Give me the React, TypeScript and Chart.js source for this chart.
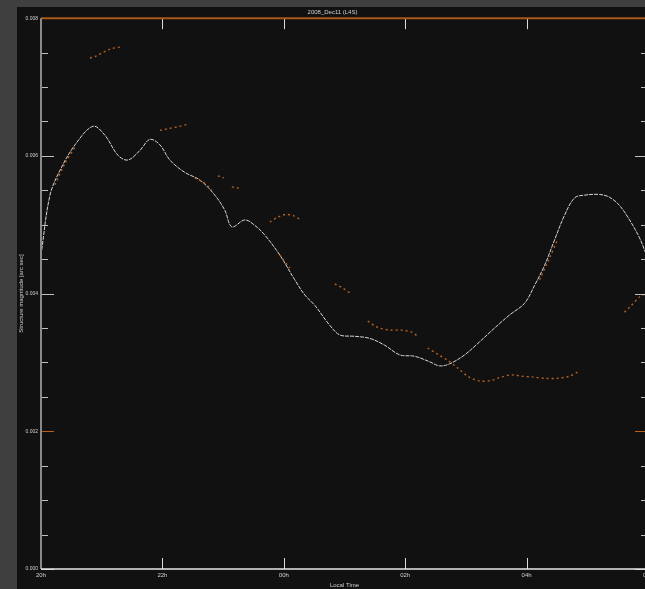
import React, { useEffect, useRef } from "react";
import { Chart, registerables } from "chart.js";

Chart.register(...registerables);

const TITLE = "2008_Dec11 (L4S)";
const X_TITLE = "Local Time";
const Y_TITLE = "Structure magnitude [arc sec]";
const X_TICK_LABELS = ["20h", "22h", "00h", "02h", "04h", "06h"];
const X_MIN = 0;
const X_MAX = 10;
const X_STEP = 2;
const Y_MIN = 0;
const Y_MAX = 0.008;
const Y_STEP = 0.002;
const Y_MINOR_STEP = 0.0005;

// white series (continuous)
const WHITE_X = [0, 0.148, 0.313, 0.56, 0.856, 1.053, 1.267, 1.432, 1.63, 1.794, 1.959, 2.123, 2.37, 2.617, 2.864, 3.029, 3.144, 3.358, 3.523, 3.687, 3.934, 4.181, 4.346, 4.51, 4.757, 4.922, 5.169, 5.416, 5.663, 5.909, 6.156, 6.403, 6.568, 6.733, 6.979, 7.226, 7.473, 7.72, 7.967, 8.132, 8.296, 8.461, 8.626, 8.79, 8.955, 9.202, 9.366, 9.531, 9.696, 9.86, 9.992];
const WHITE_Y = [0.00456, 0.00543, 0.00579, 0.00616, 0.00643, 0.0063, 0.00601, 0.00594, 0.00608, 0.00624, 0.00616, 0.00594, 0.00576, 0.00565, 0.00543, 0.00521, 0.00497, 0.00507, 0.00499, 0.00485, 0.00456, 0.0042, 0.00398, 0.00383, 0.00354, 0.0034, 0.00338, 0.00335, 0.00325, 0.00311, 0.00309, 0.00301, 0.00295, 0.00298, 0.00311, 0.0033, 0.0035, 0.00369, 0.00386, 0.00412, 0.00441, 0.00478, 0.00514, 0.00539, 0.00543, 0.00544, 0.0054, 0.00528, 0.00507, 0.00481, 0.00452];

// orange series (broken segments, null = gap)
const ORANGE_X = [0.23, 0.395, 0.56, null, 0.807, 0.905, 1.037, 1.169, 1.3, null, 1.959, 2.123, 2.288, 2.42, null, 2.535, 2.7, 2.815, null, 2.914, 3.012, null, 3.144, 3.276, null, 3.77, 3.901, 4.033, 4.165, 4.263, null, 3.934, 4.099, null, 4.84, 4.971, 5.119, null, 5.383, 5.547, 5.745, 5.942, 6.107, 6.206, null, 6.37, 6.535, 6.7, 6.864, 7.029, 7.226, 7.424, 7.588, 7.753, 7.918, 8.082, 8.296, 8.51, 8.708, 8.84, null, 8.214, 8.379, 8.51, null, 9.613, 9.728, 9.86, 9.99];
const ORANGE_Y = [0.00558, 0.00589, 0.00613, null, 0.00742, 0.00745, 0.00751, 0.00756, 0.00758, null, 0.00637, 0.0064, 0.00643, 0.00646, null, 0.00568, 0.0056, 0.0055, null, 0.00571, 0.00568, null, 0.00555, 0.00553, null, 0.00504, 0.00511, 0.00515, 0.00513, 0.00508, null, 0.00456, 0.00437, null, 0.00414, 0.00408, 0.00399, null, 0.0036, 0.00351, 0.00347, 0.00347, 0.00344, 0.00338, null, 0.00321, 0.00312, 0.00303, 0.00292, 0.0028, 0.00273, 0.00274, 0.00279, 0.00282, 0.0028, 0.00279, 0.00277, 0.00277, 0.0028, 0.00286, null, 0.0042, 0.00452, 0.00478, null, 0.00373, 0.00383, 0.00395, 0.00401];

const ORANGE = "#b8621d";
const TEXT = "#d0d0d0";
const FONT = "Liberation Sans";

const framePlugin = {
  id: "frame",
  afterDatasetsDraw(chart: any) {
    const { ctx, chartArea: a, scales } = chart;
    const xs = scales.x;
    const ys = scales.y;
    const line = (x1: number, y1: number, x2: number, y2: number) => {
      ctx.beginPath();
      ctx.moveTo(x1, y1);
      ctx.lineTo(x2, y2);
      ctx.stroke();
    };
    ctx.save();
    ctx.lineWidth = 1;
    const nMinor = Math.round((Y_MAX - Y_MIN) / Y_MINOR_STEP);
    const perMajor = Math.round(Y_STEP / Y_MINOR_STEP);
    for (let k = 0; k <= nMinor; k++) {
      const v = Y_MIN + k * Y_MINOR_STEP;
      const py = Math.round(ys.getPixelForValue(v)) + 0.5;
      const major = k % perMajor === 0;
      const len = major ? 13 : 7;
      ctx.strokeStyle = k === perMajor ? ORANGE : "#c0c0c0";
      line(a.left, py, a.left + len, py);
      line(a.right, py, a.right - len, py);
    }
    ctx.strokeStyle = "#dddddd";
    for (let v = X_MIN; v <= X_MAX + 1e-9; v += X_STEP) {
      const px = Math.round(xs.getPixelForValue(v)) + 0.5;
      line(px, a.bottom, px, a.bottom - 11);
      line(px, a.top, px, a.top + 11);
    }
    ctx.lineWidth = 2;
    ctx.strokeStyle = "#a85a1a";
    line(a.left, a.top, a.right, a.top);
    ctx.strokeStyle = "#8a8a8a";
    line(a.left, a.top, a.left, a.bottom);
    ctx.lineWidth = 1.5;
    ctx.strokeStyle = "#e8e8e8";
    line(a.left, a.bottom, a.right, a.bottom);
    ctx.restore();
  },
};

export default function App() {
  const ref = useRef<HTMLCanvasElement | null>(null);
  useEffect(() => {
    if (!ref.current) return;
    const orangeData = ORANGE_Y.map((y, i) => {
      let x = ORANGE_X[i];
      if (x === null) x = ORANGE_X[i - 1] as number;
      return { x: x as number, y };
    });
    const whiteData = WHITE_X.map((x, i) => ({ x, y: WHITE_Y[i] }));
    const chart = new Chart(ref.current, {
      type: "line",
      data: {
        datasets: [
          {
            data: orangeData as any,
            borderColor: ORANGE,
            borderWidth: 1.4,
            borderDash: [2, 3],
            pointRadius: 0,
            spanGaps: false,
            tension: 0.3,
            fill: false,
          },
          {
            data: whiteData,
            borderColor: "#d6d6d6",
            borderWidth: 1,
            borderDash: [4, 1],
            pointRadius: 0,
            tension: 0.35,
            fill: false,
          },
        ],
      },
      options: {
        responsive: false,
        animation: false,
        devicePixelRatio: 1,
        layout: { padding: { top: 0, right: 29, left: 0, bottom: 0 } },
        plugins: {
          legend: { display: false },
          tooltip: { enabled: false },
          title: {
            display: true,
            text: TITLE,
            color: TEXT,
            font: { family: FONT, size: 6, weight: "normal" },
            padding: { top: 2, bottom: 2 },
          },
        },
        scales: {
          x: {
            type: "linear",
            min: X_MIN,
            max: X_MAX,
            grid: { display: false, drawTicks: false },
            border: { display: false },
            ticks: {
              stepSize: X_STEP,
              autoSkip: false,
              maxRotation: 0,
              padding: 3,
              color: TEXT,
              font: { family: FONT, size: 6 },
              callback: (v: any) => X_TICK_LABELS[Math.round((Number(v) - X_MIN) / X_STEP)] ?? "",
            },
            title: {
              display: true,
              text: X_TITLE,
              color: TEXT,
              font: { family: FONT, size: 6 },
              padding: 0,
            },
            afterFit: (s: any) => {
              s.height = 20;
            },
          },
          y: {
            type: "linear",
            min: Y_MIN,
            max: Y_MAX,
            grid: { display: false, drawTicks: false },
            border: { display: false },
            ticks: {
              stepSize: Y_STEP,
              padding: 3,
              color: TEXT,
              font: { family: FONT, size: 5 },
              callback: (v: any) => Number(v).toFixed(3),
            },
            title: {
              display: true,
              text: Y_TITLE,
              color: TEXT,
              font: { family: FONT, size: 6 },
              padding: { top: 1, bottom: 0 },
            },
            afterFit: (s: any) => {
              s.width = 24;
            },
          },
        },
      },
      plugins: [framePlugin],
    });
    return () => chart.destroy();
  }, []);

  return (
    <div
      style={{
        position: "fixed",
        left: 0,
        top: 0,
        width: 645,
        height: 589,
        overflow: "hidden",
        background: "#3f3f3f",
      }}
    >
      <div
        style={{
          position: "absolute",
          left: 17,
          top: 7,
          width: 660,
          height: 582,
          background: "#111111",
        }}
      >
        <canvas ref={ref} width={660} height={582} style={{ width: 660, height: 582, display: "block" }} />
      </div>
    </div>
  );
}
